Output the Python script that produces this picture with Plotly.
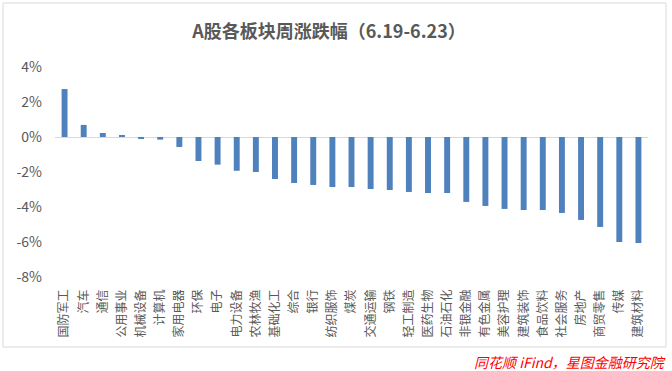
import plotly.graph_objects as go

categories = ["国防军工", "汽车", "通信", "公用事业", "机械设备", "计算机", "家用电器", "环保", "电子",
              "电力设备", "农林牧渔", "基础化工", "综合", "银行", "纺织服饰", "煤炭", "交通运输", "钢铁",
              "轻工制造", "医药生物", "石油石化", "非银金融", "有色金属", "美容护理", "建筑装饰", "食品饮料",
              "社会服务", "房地产", "商贸零售", "传媒", "建筑材料"]
values = [2.74, 0.69, 0.23, 0.06, -0.08, -0.15, -0.57, -1.37, -1.58,
          -1.93, -2.00, -2.40, -2.63, -2.74, -2.86, -2.86, -2.97, -3.03,
          -3.14, -3.20, -3.20, -3.71, -3.94, -4.11, -4.17, -4.17,
          -4.34, -4.74, -5.14, -6.00, -6.06]
y_ticks = [4, 2, 0, -2, -4, -6, -8]
y_tick_text = ["4%", "2%", "0%", "-2%", "-4%", "-6%", "-8%"]

title_text = "A股各板块周涨跌幅（6.19-6.23）"
source_text = "同花顺 iFind，星图金融研究院"

W, H = 672, 371
ml, mr, mt, mb = 55, 24, 67, 94
pw, ph = W - ml - mr, H - mt - mb

def px_x(px):
    return (px - ml) / pw

def px_y(py):
    return (H - mb - py) / ph

FONT = "Noto Sans CJK SC"
GRAY = "#595959"

fig = go.Figure(go.Bar(
    x=categories, y=values,
    marker=dict(color="#4f81bd", line=dict(width=0)),
))

fig.update_layout(
    width=W, height=H,
    margin=dict(l=ml, r=mr, t=mt, b=mb),
    paper_bgcolor="white", plot_bgcolor="white",
    bargap=0.69,
    showlegend=False,
    font=dict(family=FONT, color=GRAY),
    title=dict(text="<b>" + title_text + "</b>", x=px_x(329), xref="paper", xanchor="center",
               y=1 - 32 / H, yanchor="middle",
               font=dict(family=FONT, size=18, color=GRAY)),
    xaxis=dict(tickangle=-90, tickfont=dict(family=FONT, size=12, color=GRAY),
               showgrid=False, showline=False, ticks="", ticklabelstandoff=9),
    yaxis=dict(range=[-8, 4], tickvals=y_ticks, ticktext=y_tick_text,
               tickfont=dict(family=FONT, size=14, color=GRAY),
               showgrid=False, showline=False, zeroline=True, zerolinecolor="#d9d9d9",
               zerolinewidth=1, ticks="", ticklabelstandoff=12),
    shapes=[dict(type="rect", xref="paper", yref="paper",
                 x0=px_x(3), x1=px_x(666), y0=px_y(347), y1=px_y(3),
                 line=dict(color="#d9d9d9", width=1), fillcolor="rgba(0,0,0,0)", layer="below")],
    annotations=[dict(text="<i>" + source_text + "</i>", xref="paper", yref="paper",
                      x=px_x(668), y=px_y(362), xanchor="right", yanchor="middle",
                      showarrow=False, font=dict(family=FONT, size=14, color="#ff0000"))],
)

fig.write_html("out.html", config={"displayModeBar": False},
               post_script="document.body.style.margin='0';document.body.style.overflow='hidden';")
